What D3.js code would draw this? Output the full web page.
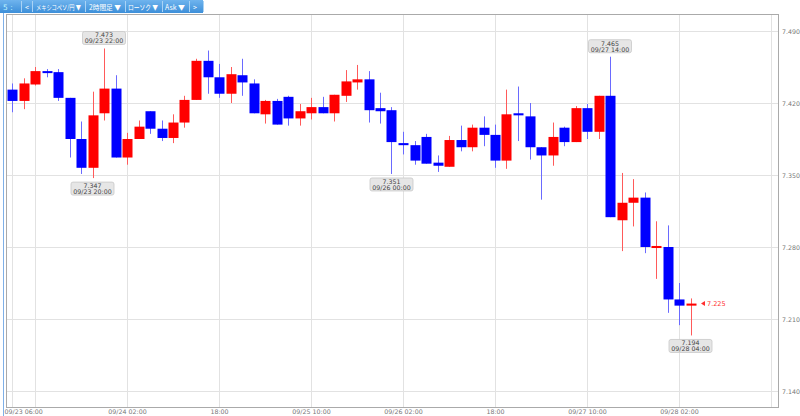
<!DOCTYPE html>
<html><head><meta charset="utf-8">
<script src="https://cdn.jsdelivr.net/npm/d3@7"></script>
<style>body{margin:0;background:#fff}svg{display:block}</style>
</head><body>
<svg id="c" width="800" height="416"></svg>
<script>
const times = [
"09/23 06:00","09/23 08:00","09/23 10:00","09/23 12:00","09/23 14:00","09/23 16:00","09/23 18:00","09/23 20:00","09/23 22:00",
"09/24 00:00","09/24 02:00","09/24 04:00","09/24 06:00","09/24 08:00","09/24 10:00","09/24 12:00","09/24 14:00","09/24 16:00","09/24 18:00","09/24 20:00","09/24 22:00",
"09/25 00:00","09/25 02:00","09/25 04:00","09/25 06:00","09/25 08:00","09/25 10:00","09/25 12:00","09/25 14:00","09/25 16:00","09/25 18:00","09/25 20:00","09/25 22:00",
"09/26 00:00","09/26 02:00","09/26 04:00","09/26 06:00","09/26 08:00","09/26 10:00","09/26 12:00","09/26 14:00","09/26 16:00","09/26 18:00","09/26 20:00","09/26 22:00",
"09/27 00:00","09/27 02:00","09/27 04:00","09/27 06:00","09/27 08:00","09/27 10:00","09/27 12:00","09/27 14:00","09/27 16:00","09/27 18:00","09/27 20:00","09/27 22:00",
"09/28 00:00","09/28 02:00","09/28 04:00"];
const opens = [7.433,7.422,7.438,7.451,7.450,7.425,7.385,7.357,7.410,7.434,
7.367,7.385,7.412,7.395,7.386,7.401,7.423,7.461,7.445,7.429,
7.447,7.439,7.409,7.422,7.426,7.405,7.410,7.416,7.410,7.427,
7.440,7.443,7.415,7.413,7.381,7.379,7.387,7.362,7.358,7.384,
7.377,7.396,7.389,7.364,7.410,7.407,7.377,7.369,7.396,7.382,
7.415,7.392,7.427,7.306,7.323,7.328,7.279,7.280,7.229,7.223];
const highs = [7.439,7.444,7.455,7.453,7.453,7.425,7.402,7.431,7.473,7.447,
7.391,7.403,7.412,7.403,7.409,7.427,7.463,7.471,7.458,7.455,
7.463,7.443,7.423,7.424,7.427,7.419,7.425,7.426,7.428,7.452,
7.457,7.451,7.430,7.416,7.392,7.383,7.390,7.369,7.388,7.398,
7.399,7.407,7.399,7.433,7.436,7.420,7.377,7.401,7.397,7.417,
7.419,7.427,7.465,7.352,7.346,7.333,7.305,7.301,7.245,7.230];
const lows = [7.411,7.414,7.437,7.445,7.422,7.367,7.351,7.347,7.403,7.367,
7.360,7.385,7.390,7.383,7.381,7.396,7.423,7.429,7.425,7.420,
7.427,7.410,7.400,7.399,7.398,7.398,7.404,7.410,7.402,7.421,
7.433,7.401,7.400,7.351,7.370,7.360,7.361,7.353,7.358,7.373,
7.373,7.378,7.357,7.356,7.383,7.365,7.326,7.359,7.378,7.382,
7.385,7.385,7.309,7.276,7.300,7.274,7.249,7.216,7.204,7.194];
const closes = [7.422,7.439,7.451,7.450,7.425,7.385,7.357,7.408,7.434,7.367,
7.385,7.397,7.395,7.386,7.401,7.423,7.461,7.445,7.429,7.448,
7.440,7.410,7.422,7.399,7.405,7.412,7.416,7.410,7.428,7.441,
7.443,7.413,7.412,7.382,7.379,7.364,7.361,7.359,7.384,7.377,
7.396,7.389,7.364,7.409,7.408,7.377,7.369,7.387,7.382,7.415,
7.392,7.427,7.309,7.323,7.328,7.280,7.281,7.229,7.223,7.225];
const yTicks = [7.140,7.210,7.280,7.350,7.420,7.490];
const gridTimes = ["09/23 06:00","09/23 10:00","09/24 02:00","09/24 18:00","09/25 10:00","09/26 02:00","09/26 18:00","09/27 10:00","09/28 02:00","09/28 18:00"];
const xLabelTimes = ["09/23 06:00","09/24 02:00","09/24 18:00","09/25 10:00","09/26 02:00","09/26 18:00","09/27 10:00","09/28 02:00"];
const xLabelTexts = ["09/23 06:00","09/24 02:00","18:00","09/25 10:00","09/26 02:00","18:00","09/27 10:00","09/28 02:00"];
const toolbarItems = ["<","メキシコペソ/円 ▼","2時間足 ▼","ローソク ▼","Ask ▼",">"];
const annTimes = ["09/23 22:00","09/23 20:00","09/26 00:00","09/27 14:00","09/28 04:00"];
const annValues = [7.473,7.347,7.351,7.465,7.194];
const annKinds = ["high","low","low","high","low"];
const lastPrice = 7.225;

const parse = d3.timeParse("%Y/%m/%d %H:%M");
const P = s => parse("2019/" + s);
const data = times.map((t,i)=>({t:P(t),o:opens[i],h:highs[i],l:lows[i],c:closes[i]}));

const svg = d3.select("#c");
const L=6, R=778, T=14, B=407;
const x = d3.scaleTime().domain([P("09/23 06:00"),P("09/28 04:00")]).range([12,690.5]);
const y = d3.scaleLinear().domain([7.140,7.490]).range([391,31]);
const font = "'DejaVu Sans', Verdana, sans-serif";

// toolbar
const tb = svg.append("g");
const grad = svg.append("defs").append("linearGradient").attr("id","tg").attr("x1",0).attr("x2",0).attr("y1",0).attr("y2",1);
grad.append("stop").attr("offset","0").attr("stop-color","#6fb4ee");
grad.append("stop").attr("offset","1").attr("stop-color","#3d8fd9");
tb.append("rect").attr("x",0).attr("y",0).attr("width",203).attr("height",13).attr("fill","url(#tg)");
tb.append("text").attr("x",3).attr("y",9.5).attr("fill","#bff4ff").attr("font-size",7.5).attr("font-family",font).text("5 :");
const itemX = [25,36,89,128,165,193];
const itemW = [4,45,32,30,20,4];
const sepX = [21,32,85,125,162,189,203];
sepX.forEach(sx=>tb.append("line").attr("x1",sx+0.5).attr("x2",sx+0.5).attr("y1",1).attr("y2",12).attr("stroke","#a9d3f5").attr("stroke-width",1));
toolbarItems.forEach((t,i)=>{
  const el = tb.append("text").attr("x",0).attr("y",0).attr("fill","#fff")
    .attr("font-size",7).attr("font-family","'Noto Sans CJK JP', "+font).text(t);
  const nat = el.node().getComputedTextLength();
  const s = Math.min(1, itemW[i]/nat);
  el.attr("transform",`translate(${itemX[i]},9.5) scale(${s},1)`);
});

// frame
svg.append("line").attr("x1",3.5).attr("x2",3.5).attr("y1",13).attr("y2",416).attr("stroke","#7fb0e8").attr("stroke-width",1);
svg.append("rect").attr("x",L+0.5).attr("y",T+0.5).attr("width",R-L).attr("height",B-T).attr("fill","#fff").attr("stroke","#aaa");

// grid
svg.append("g").selectAll("line").data(yTicks).join("line")
  .attr("x1",L+1).attr("x2",R).attr("y1",d=>Math.round(y(d))+0.5).attr("y2",d=>Math.round(y(d))+0.5)
  .attr("stroke","#e2e2e2");
svg.append("g").selectAll("line").data(gridTimes).join("line")
  .attr("x1",d=>Math.round(x(P(d)))+0.5).attr("x2",d=>Math.round(x(P(d)))+0.5).attr("y1",T+1).attr("y2",B)
  .attr("stroke","#e2e2e2");

// axes
const yAxis = svg.append("g").attr("transform",`translate(${R},0)`)
  .call(d3.axisRight(y).tickValues(yTicks).tickFormat(d3.format(".3f")).tickSize(0).tickPadding(4));
yAxis.select(".domain").remove();
yAxis.selectAll("text").attr("font-size",6.3).attr("font-family",font).attr("fill","#777");

const xAxis = svg.append("g").attr("transform",`translate(0,${B})`)
  .call(d3.axisBottom(x).tickValues(xLabelTimes.map(P)).tickFormat((d,i)=>xLabelTexts[i]).tickSize(0).tickPadding(3));
xAxis.select(".domain").remove();
xAxis.selectAll("text").attr("font-size",6.3).attr("font-family",font).attr("fill","#777");
xAxis.selectAll("text").filter((d,i)=>i===0).attr("text-anchor","start").attr("x",4-x(P("09/23 06:00")));

// candles
const bw = 10;
const g = svg.append("g");
g.selectAll("line").data(data).join("line")
  .attr("x1",d=>Math.round(x(d.t))+0.5).attr("x2",d=>Math.round(x(d.t))+0.5)
  .attr("y1",d=>y(d.h)).attr("y2",d=>y(d.l))
  .attr("stroke",d=>d.c>=d.o?"#ff5a5a":"#6a6aff").attr("stroke-width",1);
g.selectAll("rect").data(data).join("rect")
  .attr("x",d=>Math.round(x(d.t))-bw/2+0.5).attr("width",bw)
  .attr("y",d=>Math.min(y(d.o),y(d.c)))
  .attr("height",d=>Math.max(2,Math.abs(y(d.o)-y(d.c))))
  .attr("fill",d=>d.c>=d.o?"#ff0000":"#0000ff");

// annotations
const ann = svg.append("g");
annTimes.forEach((t,i)=>{
  const cx = x(P(t)), v = annValues[i];
  const w=43, h=13;
  const top = annKinds[i]==="high" ? y(v)-4-h : y(v)+4;
  const a = ann.append("g");
  a.append("rect").attr("x",cx-w/2).attr("y",top).attr("width",w).attr("height",h).attr("rx",2)
    .attr("fill","#e6e6e6").attr("stroke","#c8c8c8").attr("stroke-width",0.8);
  a.append("text").attr("x",cx).attr("y",top+5.8).attr("text-anchor","middle").attr("font-size",6.3)
    .attr("font-family",font).attr("fill","#444").text(d3.format(".3f")(v));
  a.append("text").attr("x",cx).attr("y",top+11.8).attr("text-anchor","middle").attr("font-size",6.3)
    .attr("font-family",font).attr("fill","#444").text(t);
});

// last price marker
const ly = y(lastPrice);
svg.append("path").attr("d",`M${701},${ly} l4,-2.5 l0,5 z`).attr("fill","#ff3030");
svg.append("text").attr("x",707).attr("y",ly+2.3).attr("font-size",6.5).attr("font-family",font).attr("fill","#ff3030")
  .text(d3.format(".3f")(lastPrice));
</script>
</body></html>
